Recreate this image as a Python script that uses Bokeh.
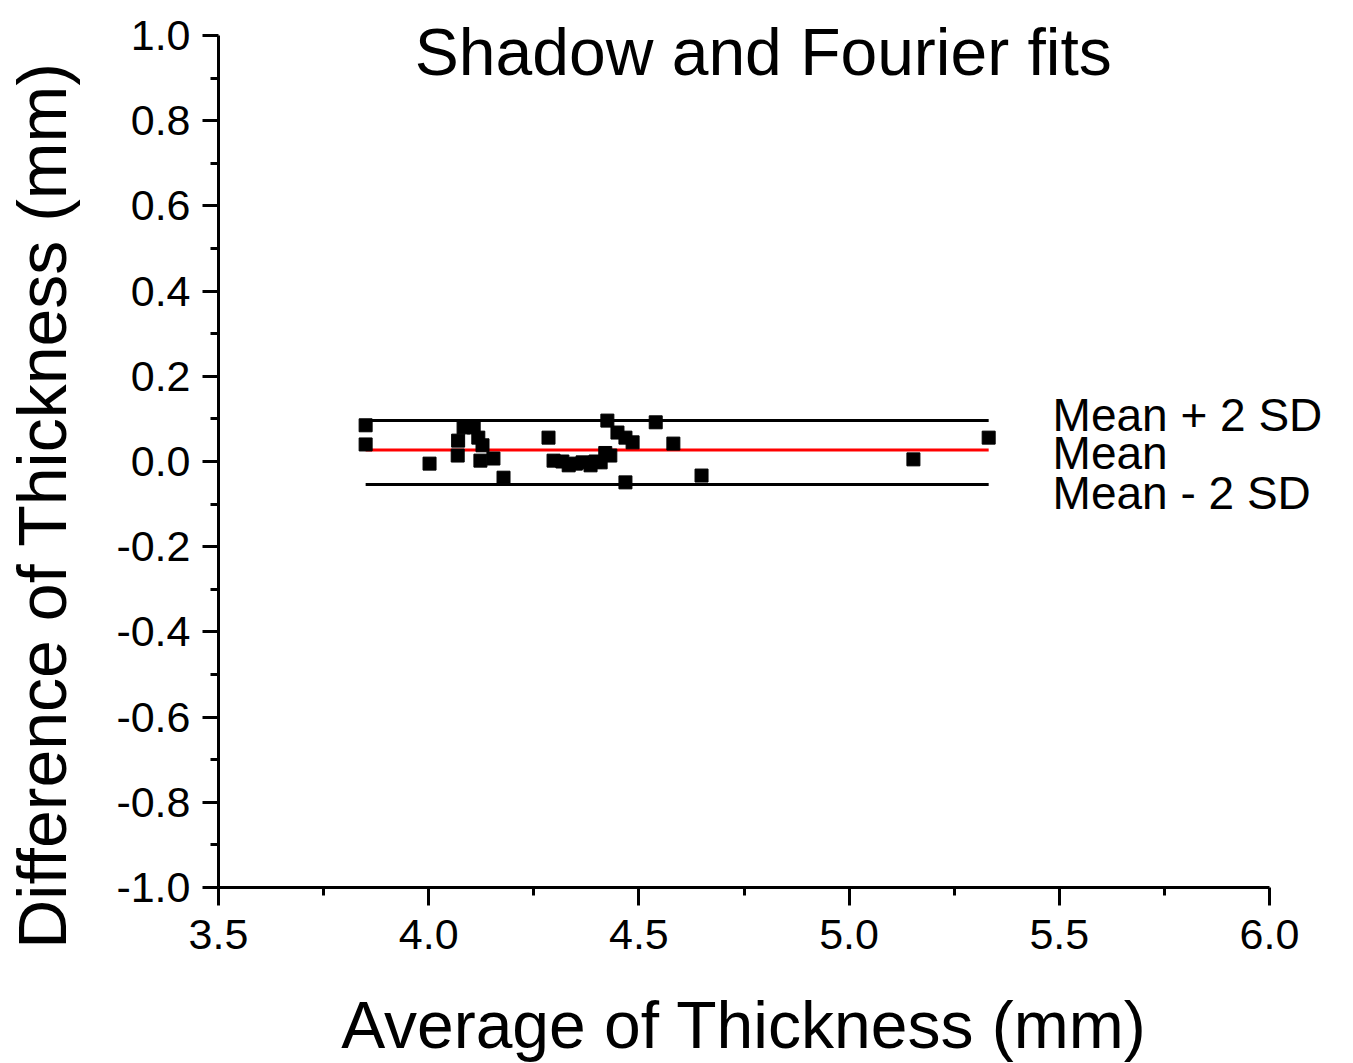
import math
from bokeh.plotting import figure
from bokeh.models import (ColumnDataSource, FixedTicker, NumeralTickFormatter,
                          Range1d, Label)
from bokeh.embed import file_html
from bokeh.resources import INLINE

# Bland-Altman comparison of thickness: shadow fit vs Fourier fit
avg_thickness = [3.85, 3.85, 4.002, 4.069, 4.07, 4.083, 4.107, 4.118, 4.128,
                 4.123, 4.154, 4.178, 4.285, 4.297, 4.318, 4.333, 4.35, 4.366,
                 4.385, 4.397, 4.409, 4.42, 4.432, 4.425, 4.449, 4.468, 4.485,
                 4.468, 4.54, 4.582, 4.649, 5.153, 5.332]
diff_thickness = [0.085, 0.040, -0.005, 0.014, 0.049, 0.080, 0.080, 0.056, 0.038,
                  0.002, 0.007, -0.038, 0.056, 0.002, 0.0, -0.009, -0.005, -0.002,
                  -0.009, 0.0, -0.002, 0.02, 0.014, 0.096, 0.068, 0.056, 0.045,
                  -0.049, 0.092, 0.042, -0.033, 0.005, 0.056]

mean_diff = 0.027
upper_loa = 0.096
lower_loa = -0.054

x_ticks = [3.5, 4.0, 4.5, 5.0, 5.5, 6.0]
y_ticks = [-1.0, -0.8, -0.6, -0.4, -0.2, 0.0, 0.2, 0.4, 0.6, 0.8, 1.0]
x_minor = [3.75, 4.25, 4.75, 5.25, 5.75]
y_minor = [-0.9, -0.7, -0.5, -0.3, -0.1, 0.1, 0.3, 0.5, 0.7, 0.9]

FONT = "Liberation Sans"
W, H = 1353, 1063

# The frame fills the whole canvas so that titles and captions can sit
# anywhere; the axes are pinned at x=3.5 / y=-1.0 and limited by bounds.
X_AXIS_SPAN = (3.5, 6.0)
Y_AXIS_SPAN = (-1.0, 1.0)
px_per_x = 420.4
px_per_y = 426.0
x_start = X_AXIS_SPAN[0] - 218 / px_per_x
x_end = x_start + W / px_per_x
y_end = Y_AXIS_SPAN[1] + 35 / px_per_y
y_start = y_end - H / px_per_y

p = figure(width=W, height=H, output_backend="svg", toolbar_location=None,
           x_range=Range1d(x_start, x_end), y_range=Range1d(y_start, y_end),
           min_border_left=0, min_border_right=0,
           min_border_top=0, min_border_bottom=0,
           background_fill_color="white", border_fill_color="white")
p.outline_line_color = None
p.grid.visible = False

for ax in (p.xaxis[0], p.yaxis[0]):
    ax.axis_line_width = 3
    ax.axis_line_color = "black"
    ax.major_tick_line_width = 3
    ax.minor_tick_line_width = 3
    ax.major_tick_in = 0
    ax.minor_tick_in = 0
    ax.minor_tick_out = 8
    ax.major_label_text_font = FONT
    ax.major_label_text_font_size = "43px"
    ax.major_label_text_color = "black"
    ax.formatter = NumeralTickFormatter(format="0.0")

xa, ya = p.xaxis[0], p.yaxis[0]
xa.ticker = FixedTicker(ticks=x_ticks, minor_ticks=x_minor)
ya.ticker = FixedTicker(ticks=y_ticks, minor_ticks=y_minor)
xa.bounds = X_AXIS_SPAN
ya.bounds = Y_AXIS_SPAN
xa.fixed_location = Y_AXIS_SPAN[0]
ya.fixed_location = X_AXIS_SPAN[0]
xa.major_tick_out = 18
ya.major_tick_out = 16
xa.major_label_standoff = 14
ya.major_label_standoff = 12

xa.axis_label = "Average of Thickness (mm)"
xa.axis_label_text_font = FONT
xa.axis_label_text_font_size = "66px"
xa.axis_label_text_font_style = "normal"
xa.axis_label_text_color = "black"
xa.axis_label_standoff = 36

# limits of agreement and mean difference, spanning the measured range
x_span = [min(avg_thickness), max(avg_thickness)]
p.line(x_span, [upper_loa, upper_loa], line_color="black", line_width=3)
p.line(x_span, [lower_loa, lower_loa], line_color="black", line_width=3)
p.line(x_span, [mean_diff, mean_diff], line_color="#ff0000", line_width=3)

src = ColumnDataSource(data=dict(x=avg_thickness, y=diff_thickness))
p.scatter("x", "y", source=src, marker="square", size=13,
          fill_color="black", line_color="black")

# line captions
for txt, yv in (("Mean + 2 SD", 0.110), ("Mean", 0.021), ("Mean - 2 SD", -0.073)):
    p.add_layout(Label(x=5.484, y=yv, text=txt, text_font=FONT,
                       text_font_size="46px", text_color="black",
                       text_align="left", text_baseline="alphabetic"))

# chart title at the top of the canvas
p.add_layout(Label(x=4.796, y=0.962, text="Shadow and Fourier fits", text_font=FONT,
                   text_font_size="66px", text_color="black",
                   text_align="center", text_baseline="alphabetic"))

# vertical axis title
p.add_layout(Label(x=3.081, y=-0.103, text="Difference of Thickness (mm)",
                   text_font=FONT, text_font_size="68px", text_color="black",
                   angle=math.pi / 2, text_align="center", text_baseline="middle"))

open("out.html", "w").write(file_html(p, INLINE))
